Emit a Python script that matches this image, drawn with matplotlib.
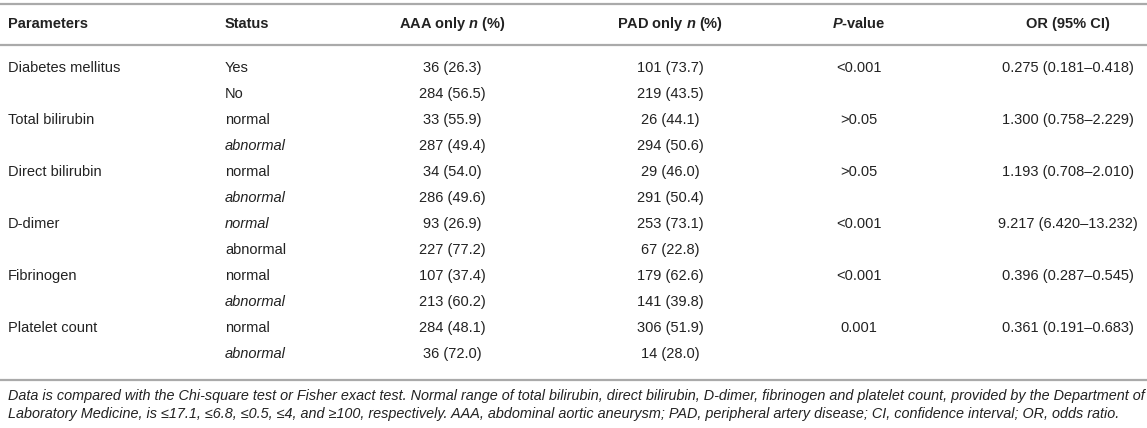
import matplotlib
matplotlib.use("Agg")
from matplotlib import pyplot as plt

plt.rcParams['font.family'] = ['Liberation Sans', 'DejaVu Sans']
plt.rcParams['mathtext.fontset'] = 'custom'
plt.rcParams['mathtext.it'] = 'Liberation Sans:italic:bold'
plt.rcParams['mathtext.rm'] = 'Liberation Sans:bold'

headers = ["Parameters", "Status", "AAA only $n$ (%)", "PAD only $n$ (%)", "$P$-value", "OR (95% CI)"]
parameters = ["Diabetes mellitus", "", "Total bilirubin", "", "Direct bilirubin", "",
              "D-dimer", "", "Fibrinogen", "", "Platelet count", ""]
status = ["Yes", "No", "normal", "abnormal", "normal", "abnormal",
          "normal", "abnormal", "normal", "abnormal", "normal", "abnormal"]
status_italic = [False, False, False, True, False, True,
                 True, False, False, True, False, True]
aaa_only = ["36 (26.3)", "284 (56.5)", "33 (55.9)", "287 (49.4)", "34 (54.0)", "286 (49.6)",
            "93 (26.9)", "227 (77.2)", "107 (37.4)", "213 (60.2)", "284 (48.1)", "36 (72.0)"]
pad_only = ["101 (73.7)", "219 (43.5)", "26 (44.1)", "294 (50.6)", "29 (46.0)", "291 (50.4)",
            "253 (73.1)", "67 (22.8)", "179 (62.6)", "141 (39.8)", "306 (51.9)", "14 (28.0)"]
p_values = ["<0.001", "", ">0.05", "", ">0.05", "", "<0.001", "", "<0.001", "", "0.001", ""]
odds_ratio = ["0.275 (0.181–0.418)", "", "1.300 (0.758–2.229)", "", "1.193 (0.708–2.010)", "",
              "9.217 (6.420–13.232)", "", "0.396 (0.287–0.545)", "", "0.361 (0.191–0.683)", ""]
footnote = ["Data is compared with the Chi-square test or Fisher exact test. Normal range of total bilirubin, "
            "direct bilirubin, D-dimer, fibrinogen and platelet count, provided by the Department of",
            "Laboratory Medicine, is ≤17.1, ≤6.8, ≤0.5, ≤4, and ≥100, respectively. AAA, abdominal aortic "
            "aneurysm; PAD, peripheral artery disease; CI, confidence interval; OR, odds ratio."]

W, H = 1147, 428
fig = plt.figure(figsize=(W / 100, H / 100), dpi=100)
ax = fig.add_axes([0, 0, 1, 1])
ax.set_xlim(0, W)
ax.set_ylim(H, 0)
ax.axis("off")

text_color = "#222222"
line_color = "#aaaaaa"
fs = 10.5

# column x positions and alignment
col_x = [8, 225, 452, 670, 859, 1068]
col_ha = ["left", "left", "center", "center", "center", "center"]

for x, ha, h in zip(col_x, col_ha, headers):
    ax.text(x, 27.5, h, ha=ha, va="baseline", fontsize=fs, fontweight="bold", color=text_color)

for y in (4, 45, 380):
    ax.plot([0, W], [y, y], color=line_color, linewidth=1.6, solid_capstyle="butt")

row_y0, row_dy = 68, 26
for i in range(len(status)):
    y = row_y0 + i * row_dy
    cells = [parameters[i], status[i], aaa_only[i], pad_only[i], p_values[i], odds_ratio[i]]
    for j, (x, ha, c) in enumerate(zip(col_x, col_ha, cells)):
        if not c:
            continue
        style = "italic" if (j == 1 and status_italic[i]) else "normal"
        ax.text(x, y, c, ha=ha, va="center", fontsize=fs, fontstyle=style, color=text_color)

for k, line in enumerate(footnote):
    ax.text(8, 396 + k * 18, line, ha="left", va="center", fontsize=10.4, fontstyle="italic",
            color=text_color)

plt.savefig("out.png", dpi=100)
